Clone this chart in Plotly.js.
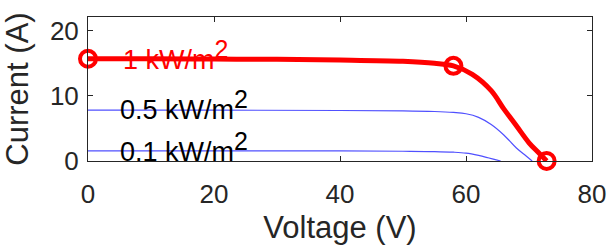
<!DOCTYPE html>
<html><head><meta charset="utf-8">
<script src="https://cdn.plot.ly/plotly-3.0.1.min.js"></script>
<style>html,body{margin:0;padding:0;background:#fff}#plot{width:607px;height:249px}</style>
</head><body><div id="plot"></div>
<script>
const v1 = [0,10,20,30,40,50,55,58,61,64,66,68,70,71.5,72.8];
const i1 = [15.7,15.7,15.65,15.6,15.5,15.3,15.0,14.6,13.3,10.8,8.0,5.4,2.8,1.3,0];
const vMarks = [0,58,72.8];
const iMarks = [15.7,14.6,0];
const v05 = [0,20,40,50,55,58,60,62,64,66,68,69.5,70.5];
const i05 = [7.8,7.8,7.75,7.7,7.6,7.45,7.25,6.7,5.6,4.0,2.0,0.8,0];
const v01 = [0,20,40,50,55,58,60,62,63.5,64.5,65.5];
const i01 = [1.55,1.55,1.55,1.5,1.45,1.35,1.2,0.85,0.5,0.25,0];
const labelMain = ['1 kW/m','0.5 kW/m','0.1 kW/m'];
const labelSup = ['2','2','2'];
const labelV = [5.2,4.8,4.8];
const labelI = [16.3,8.6,2.1];
const labelColors = ['#ff0000','#000000','#000000'];
const xTicks = [0,20,40,60,80];
const yTicks = [0,10,20];

const font = 'Liberation Sans, Arial, sans-serif';
const traces = [
  {x:v05,y:i05,mode:'lines',line:{color:'rgb(80,80,255)',width:1.2,shape:'spline'},hoverinfo:'none'},
  {x:v01,y:i01,mode:'lines',line:{color:'rgb(80,80,255)',width:1.2,shape:'spline'},hoverinfo:'none'},
  {x:v1,y:i1,mode:'lines',line:{color:'#ff0000',width:5,shape:'spline'},hoverinfo:'none'},
  {x:vMarks,y:iMarks,mode:'markers',cliponaxis:false,
   marker:{symbol:'circle-open',size:16,color:'#ff0000',line:{width:4,color:'#ff0000'}},hoverinfo:'none'}
];
const annotations = labelMain.map((t,k)=>({x:labelV[k],y:labelI[k],xref:'x',yref:'y',
  text:t+'<sup><span style="font-size:25px">'+labelSup[k]+'</span></sup>',showarrow:false,
  xanchor:'left',yanchor:'middle',font:{family:font,size:27,color:labelColors[k]}}));
const layout = {
  width:607,height:249,margin:{l:88,r:15,t:17,b:88},
  paper_bgcolor:'#fff',plot_bgcolor:'#fff',showlegend:false,
  font:{family:font,color:'#262626'},
  xaxis:{range:[0,80],tickvals:xTicks,ticktext:xTicks.map(String),ticks:'inside',ticklen:5,tickcolor:'#262626',
    showline:true,linecolor:'#262626',linewidth:1,mirror:'ticks',showgrid:false,zeroline:false,
    ticklabelstandoff:10,
    tickfont:{size:26,family:font,color:'#262626'},
    title:{text:'Voltage (V)',font:{size:31,family:font,color:'#262626'},standoff:8},automargin:false},
  yaxis:{range:[0,22.1],tickvals:yTicks,ticktext:yTicks.map(String),ticks:'inside',ticklen:5,tickcolor:'#262626',
    showline:true,linecolor:'#262626',linewidth:1,mirror:'ticks',showgrid:false,zeroline:false,
    ticklabelstandoff:3,
    tickfont:{size:26,family:font,color:'#262626'},
    title:{text:'Current (A)',font:{size:31,family:font,color:'#262626'},standoff:12},automargin:false},
  annotations:annotations
};
Plotly.newPlot('plot',traces,layout,{staticPlot:true,displayModeBar:false});
</script></body></html>
